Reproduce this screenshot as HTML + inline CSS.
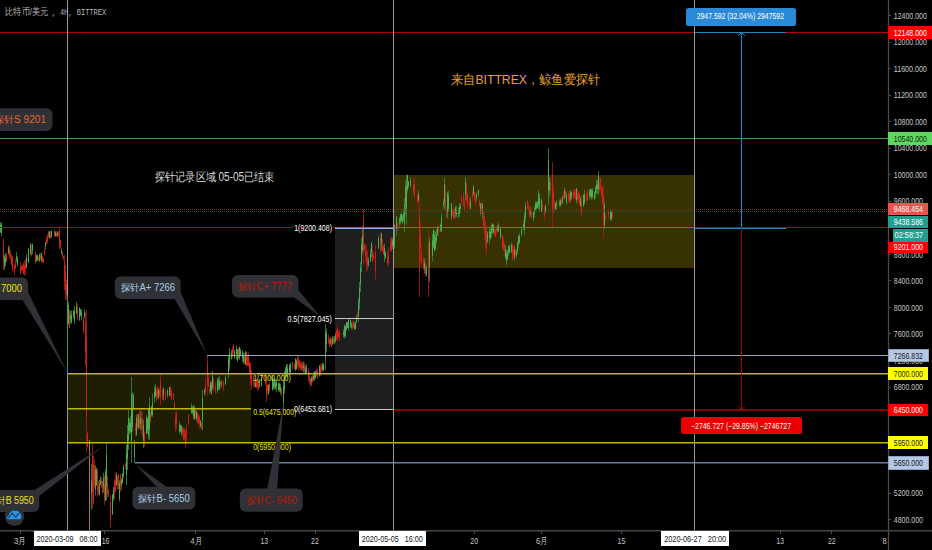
<!DOCTYPE html>
<html><head><meta charset="utf-8"><style>
html,body{margin:0;padding:0;background:#000;width:932px;height:550px;overflow:hidden}
svg{position:absolute;left:0;top:0}
text{font-family:"Liberation Sans",sans-serif}
</style></head><body>
<svg width="932" height="550" viewBox="0 0 932 550" shape-rendering="crispEdges">
<rect width="932" height="550" fill="#000"/>
<!-- boxes -->
<rect x="335" y="228" width="58" height="182" fill="#1e1e1e"/>
<rect x="67" y="373" width="184" height="70" fill="#201d05"/>
<rect x="393" y="175" width="301" height="93" fill="#383202"/>
<!-- candles -->
<g shape-rendering="geometricPrecision">
<path d="M0.5 222.6V233.4M4.5 255.2V269.7M5.5 253.0V266.1M8.5 245.7V254.4M16.5 252.2V262.4M17.5 256.5V265.9M26.5 254.2V267.8M28.5 248.4V263.2M30.5 243.1V255.4M32.5 243.3V254.3M36.5 254.6V261.6M37.5 254.7V261.0M39.5 253.4V261.9M41.5 252.3V262.3M45.5 241.9V249.6M49.5 230.6V238.5M51.5 230.7V237.7M55.5 231.1V236.4M57.5 231.2V237.0M61.5 248.1V254.6M68.5 301.9V325.0M70.5 310.7V323.3M71.5 310.5V323.8M73.5 310.0V319.0M74.5 306.2V324.2M76.5 302.0V313.7M79.5 307.6V321.0M80.5 308.8V316.0M81.5 309.1V320.6M84.5 309.3V318.3M91.5 464.0V509.8M95.5 465.1V495.5M96.5 467.7V485.8M99.5 480.0V495.1M100.5 476.3V485.0M103.5 472.8V492.3M105.5 469.4V501.1M112.5 494.4V514.9M113.5 486.9V501.3M116.5 472.0V485.9M119.5 480.2V501.5M121.5 478.3V490.0M122.5 473.3V483.4M123.5 465.1V478.1M129.5 418.4V434.0M130.5 416.1V433.3M132.5 392.5V431.6M133.5 393.5V410.3M136.5 414.5V435.7M138.5 413.9V429.2M140.5 410.9V430.4M143.5 419.4V448.2M146.5 414.9V434.0M147.5 417.8V434.0M148.5 408.9V439.2M151.5 406.2V416.8M152.5 393.8V416.8M154.5 386.4V402.8M155.5 383.6V397.3M158.5 389.3V399.4M163.5 386.9V400.5M167.5 389.1V397.7M169.5 387.2V396.0M179.5 421.4V433.8M180.5 424.9V431.6M181.5 425.0V435.8M191.5 403.6V413.8M192.5 406.0V414.5M193.5 405.1V419.3M194.5 405.9V419.9M196.5 411.0V421.1M200.5 420.2V427.8M204.5 388.5V395.3M210.5 381.8V392.7M211.5 380.8V394.7M212.5 371.0V389.7M217.5 378.5V393.2M218.5 377.2V390.1M219.5 376.3V390.1M221.5 380.3V387.4M225.5 375.4V385.4M231.5 349.6V359.3M234.5 349.8V359.1M236.5 345.3V359.7M237.5 349.2V361.5M239.5 346.6V359.7M240.5 348.7V356.3M242.5 350.0V362.1M243.5 351.8V363.8M245.5 351.0V365.0M255.5 380.2V387.1M259.5 379.0V387.9M261.5 372.6V386.6M268.5 384.2V394.5M272.5 376.1V390.8M273.5 378.5V389.4M274.5 377.7V389.9M275.5 379.4V388.9M276.5 378.3V392.5M278.5 382.2V391.5M279.5 382.7V392.1M280.5 383.8V394.5M284.5 371.2V393.3M285.5 367.0V378.7M286.5 364.5V377.3M287.5 363.9V377.6M289.5 364.4V375.3M290.5 362.6V374.4M295.5 358.4V371.2M296.5 359.3V369.6M303.5 361.6V372.3M305.5 365.3V373.9M306.5 363.7V373.6M311.5 376.4V385.5M313.5 372.4V381.0M314.5 371.7V380.6M315.5 370.6V379.2M319.5 365.1V376.8M322.5 362.6V371.3M323.5 363.5V371.3M326.5 328.7V351.6M330.5 337.5V344.6M332.5 336.1V345.0M334.5 336.3V344.3M335.5 332.8V342.9M343.5 329.5V337.7M344.5 324.3V338.4M345.5 325.8V337.1M346.5 322.2V330.6M347.5 321.8V328.1M348.5 319.3V330.9M350.5 319.8V327.9M351.5 321.9V329.5M354.5 322.1V329.8M355.5 321.3V329.8M356.5 315.4V323.6M362.5 225.9V254.3M368.5 257.1V266.7M370.5 248.7V262.2M371.5 241.7V257.4M378.5 235.3V249.0M381.5 233.1V250.4M384.5 243.7V262.0M385.5 251.2V259.1M392.5 237.9V249.0M394.5 224.3V248.7M396.5 216.4V235.2M399.5 217.1V226.6M400.5 214.3V224.5M401.5 212.5V221.8M402.5 215.1V223.8M403.5 209.2V221.6M407.5 174.3V192.5M408.5 181.0V188.4M410.5 177.4V187.0M418.5 190.6V202.1M424.5 258.4V273.5M426.5 264.8V276.2M429.5 237.2V281.8M432.5 233.9V261.5M433.5 229.5V248.2M434.5 230.8V251.7M435.5 231.7V250.0M436.5 229.2V243.8M437.5 225.9V236.0M440.5 223.5V231.7M441.5 214.1V232.0M443.5 198.8V208.7M447.5 191.7V218.0M448.5 191.0V211.9M451.5 203.1V220.3M455.5 206.1V217.5M456.5 205.7V217.2M458.5 207.3V218.2M459.5 203.2V216.9M460.5 203.6V212.7M470.5 197.2V208.8M473.5 184.9V196.1M476.5 192.2V201.1M478.5 189.9V196.7M480.5 202.9V215.2M482.5 202.7V218.8M487.5 231.2V242.6M489.5 227.1V243.5M490.5 228.6V239.7M491.5 224.9V237.6M492.5 223.2V234.7M493.5 224.2V233.1M497.5 225.3V231.4M498.5 222.8V231.9M500.5 226.5V238.9M505.5 245.2V259.0M507.5 249.9V260.0M508.5 245.4V256.1M509.5 244.8V253.0M511.5 242.4V253.1M514.5 245.7V260.6M516.5 249.7V257.5M517.5 241.6V253.9M518.5 235.2V248.6M519.5 233.2V243.9M521.5 226.6V236.3M523.5 220.4V230.5M530.5 207.0V217.1M533.5 211.4V221.3M534.5 205.9V217.6M535.5 201.3V211.1M536.5 201.3V210.3M537.5 201.1V208.7M539.5 192.9V210.7M541.5 198.9V211.6M545.5 204.4V212.7M549.5 177.0V197.0M555.5 203.0V210.0M556.5 200.2V209.0M559.5 199.3V206.9M560.5 198.6V206.8M562.5 196.2V203.5M564.5 187.6V199.0M566.5 191.7V204.8M570.5 190.9V202.2M571.5 190.7V199.5M576.5 188.3V203.8M580.5 196.0V206.6M583.5 194.5V206.6M584.5 189.9V204.8M589.5 189.0V199.3M590.5 188.8V197.3M591.5 188.2V199.8M592.5 188.0V198.6M594.5 191.3V199.9M595.5 186.0V197.6M596.5 179.7V194.3M597.5 179.7V193.7M604.5 201.7V229.1M610.5 210.7V220.2M611.5 210.8V221.1M67.5 295.0V378.0M106.5 443.0V500.0M131.5 377.0V463.0M134.5 440.0V463.0M149.5 397.0V440.0M202.5 390.0V430.0M283.5 380.0V410.0M325.5 322.0V370.0M406.5 175.0V225.0M444.5 178.0V210.0M465.5 177.0V200.0M506.5 250.0V265.0M538.5 190.0V210.0M548.5 148.0V205.0M598.5 171.0V195.0M1.5 222.0V236.0M358.5 298.0V322.0M359.5 282.0V310.0M360.5 262.0V292.0M361.5 238.0V272.0M126.5 445.0V485.0M127.5 425.0V470.0M128.5 410.0V450.0M228.5 355.0V378.0M229.5 348.0V370.0M404.5 198.0V232.0M405.5 180.0V215.0M524.5 212.0V235.0M525.5 202.0V222.0" stroke="#2f8a3a" stroke-width="0.85" fill="none"/>
<path d="M6.5 253.2V261.8M9.5 245.7V258.3M10.5 250.4V260.2M11.5 254.5V265.8M12.5 255.8V272.3M14.5 264.3V274.8M15.5 258.7V269.4M20.5 262.5V274.1M21.5 264.9V271.2M22.5 265.6V270.5M23.5 262.5V274.0M24.5 260.7V275.8M25.5 259.4V274.6M31.5 244.5V256.8M35.5 252.3V264.4M38.5 256.5V260.6M40.5 253.2V260.5M42.5 255.7V262.6M43.5 257.4V262.9M44.5 248.4V255.4M46.5 237.1V244.5M47.5 233.7V243.3M48.5 231.1V237.7M50.5 230.9V238.8M54.5 230.0V237.0M56.5 231.5V237.0M58.5 231.0V236.1M60.5 239.6V248.2M62.5 251.8V257.3M63.5 255.4V260.4M69.5 309.8V328.2M77.5 304.3V320.1M83.5 317.3V333.9M87.5 431.7V447.4M93.5 455.6V504.5M94.5 459.5V487.7M97.5 468.5V497.2M98.5 481.0V495.4M101.5 476.9V488.4M102.5 481.1V493.8M104.5 475.8V504.9M107.5 475.7V497.0M108.5 488.8V497.5M114.5 479.2V498.9M115.5 472.8V492.8M117.5 475.1V489.0M118.5 473.7V489.0M120.5 474.0V491.9M125.5 462.2V469.1M135.5 423.1V435.6M137.5 413.7V430.2M139.5 410.4V428.9M141.5 408.2V434.7M142.5 412.0V437.7M144.5 431.5V446.7M150.5 411.0V422.4M156.5 388.1V401.4M157.5 386.3V398.0M159.5 386.8V396.9M162.5 388.3V399.9M165.5 389.5V400.2M170.5 386.0V397.0M171.5 389.1V399.9M173.5 393.0V399.9M174.5 401.5V409.5M175.5 411.7V431.7M176.5 410.6V430.1M182.5 426.2V435.2M183.5 427.9V440.6M184.5 428.2V440.4M186.5 424.3V442.1M188.5 414.3V424.8M195.5 407.7V418.4M197.5 411.6V424.6M198.5 414.0V423.9M199.5 415.5V428.6M201.5 422.4V429.8M205.5 377.7V396.1M208.5 373.5V386.9M209.5 385.6V393.9M213.5 377.6V391.9M215.5 382.2V394.0M220.5 380.2V388.2M223.5 380.0V391.3M232.5 346.3V358.1M233.5 344.1V355.8M238.5 348.0V359.1M244.5 353.5V364.3M246.5 351.3V366.1M247.5 354.7V366.7M248.5 352.3V366.2M249.5 361.2V373.3M253.5 373.8V386.9M254.5 378.9V388.2M256.5 378.9V388.3M257.5 379.3V390.6M258.5 381.9V390.1M265.5 374.4V386.2M267.5 384.8V393.7M269.5 381.9V391.6M281.5 387.3V396.7M292.5 361.7V370.1M294.5 363.2V369.4M297.5 356.3V367.8M298.5 354.7V370.5M299.5 360.1V368.7M300.5 360.3V370.6M301.5 361.9V371.2M302.5 361.6V371.2M304.5 362.4V372.9M308.5 368.1V381.6M309.5 371.8V384.4M310.5 378.2V387.4M312.5 375.2V382.6M316.5 369.1V376.6M317.5 368.9V378.5M320.5 363.5V375.9M321.5 364.2V372.1M328.5 334.7V343.9M329.5 337.5V346.7M331.5 338.0V347.1M333.5 336.2V344.2M336.5 328.5V339.9M337.5 325.0V341.0M338.5 330.5V339.1M339.5 330.4V341.1M352.5 321.9V329.8M353.5 320.7V327.5M357.5 311.3V319.4M364.5 243.4V251.4M365.5 244.4V262.0M366.5 245.0V271.9M367.5 250.5V270.3M372.5 244.9V262.8M373.5 252.7V260.4M380.5 232.0V251.6M382.5 238.7V253.2M383.5 245.0V254.7M387.5 250.2V267.3M388.5 247.3V264.8M390.5 238.0V251.4M391.5 237.5V251.2M397.5 222.4V231.2M413.5 178.4V193.8M414.5 178.6V198.6M417.5 192.6V205.6M420.5 221.6V261.9M421.5 245.2V264.4M423.5 256.6V269.3M425.5 258.7V276.7M438.5 225.5V234.7M445.5 184.5V210.2M446.5 206.6V218.8M452.5 207.7V217.5M453.5 208.8V218.4M454.5 210.1V220.5M461.5 195.8V205.7M463.5 191.0V207.4M464.5 199.2V212.2M466.5 181.7V203.2M467.5 192.5V207.7M469.5 197.6V209.6M472.5 189.4V201.8M474.5 191.7V200.9M475.5 193.6V206.3M479.5 198.5V207.3M481.5 202.5V214.4M483.5 211.1V227.0M494.5 226.3V236.1M495.5 229.2V237.8M496.5 225.7V235.1M502.5 234.4V248.5M503.5 236.1V251.1M504.5 242.7V255.6M512.5 243.7V259.6M513.5 245.0V258.8M515.5 248.1V257.5M527.5 199.6V209.0M528.5 203.1V211.4M529.5 206.7V217.8M531.5 210.2V218.1M542.5 201.0V211.7M544.5 207.3V221.0M550.5 176.5V193.0M553.5 186.5V213.6M554.5 200.1V210.1M561.5 197.4V204.5M563.5 191.2V200.3M565.5 188.5V198.7M568.5 191.6V202.4M569.5 190.4V203.0M573.5 189.7V199.8M574.5 189.4V198.7M575.5 189.3V199.4M577.5 189.2V202.8M578.5 191.1V202.5M579.5 193.3V205.8M581.5 195.8V216.5M586.5 191.4V201.0M587.5 188.7V200.8M599.5 178.1V192.7M600.5 177.3V191.4M601.5 186.4V196.9M602.5 185.9V205.0M605.5 212.4V220.9M608.5 209.4V218.4M612.5 209.4V219.3M86.5 310.0V453.0M92.5 443.0V508.0M110.5 495.0V528.0M160.5 375.0V405.0M185.5 430.0V448.0M207.5 355.0V395.0M266.5 380.0V402.0M363.5 209.0V265.0M375.5 245.0V280.0M419.5 195.0V297.0M428.5 230.0V297.0M486.5 225.0V255.0M552.5 162.0V228.0M603.5 185.0V238.0M3.5 238.0V270.0M59.5 226.0V250.0M65.5 265.0V300.0M64.5 255.0V290.0M66.5 280.0V300.0M85.5 312.0V365.0M250.5 362.0V385.0M251.5 370.0V390.0M484.5 210.0V240.0M485.5 222.0V250.0" stroke="#a81a14" stroke-width="0.85" fill="none"/>
<path d="M0.5 224.9V231.8M4.5 255.7V267.3M5.5 258.0V263.0M8.5 247.9V253.1M16.5 256.3V259.1M17.5 258.2V265.3M26.5 257.6V267.4M28.5 248.4V262.3M30.5 243.9V254.2M32.5 244.4V250.7M36.5 255.6V261.2M37.5 255.2V259.0M39.5 254.3V261.0M41.5 253.2V259.8M45.5 242.4V246.8M49.5 231.9V238.1M51.5 230.8V236.5M55.5 232.3V235.9M57.5 232.8V235.9M61.5 249.9V252.6M68.5 305.0V323.2M70.5 315.7V319.4M71.5 314.6V322.4M73.5 310.5V315.7M74.5 311.2V321.1M76.5 306.0V313.4M79.5 307.8V319.9M80.5 310.2V315.5M81.5 312.5V318.1M84.5 312.8V317.1M91.5 479.4V493.9M95.5 469.7V489.7M96.5 469.6V485.1M99.5 483.9V494.9M100.5 479.1V484.5M103.5 477.7V487.4M105.5 472.6V500.2M112.5 494.5V514.4M113.5 488.6V498.4M116.5 475.2V485.1M119.5 483.2V498.8M121.5 480.2V485.3M122.5 473.5V483.0M123.5 466.5V475.4M129.5 422.9V431.2M130.5 422.5V432.4M132.5 407.8V427.6M133.5 394.7V409.2M136.5 417.4V434.9M138.5 414.3V427.5M140.5 418.3V423.8M143.5 425.4V440.3M146.5 417.2V433.0M147.5 418.3V430.6M148.5 409.0V435.5M151.5 406.3V414.7M152.5 402.3V414.7M154.5 391.7V398.0M155.5 388.1V396.1M158.5 389.5V397.8M163.5 388.9V395.3M167.5 390.4V394.7M169.5 387.3V395.8M179.5 424.2V432.1M180.5 425.1V431.4M181.5 426.8V433.1M191.5 407.2V412.0M192.5 408.1V412.4M193.5 406.6V415.9M194.5 409.7V418.9M196.5 411.7V418.3M200.5 420.3V426.1M204.5 389.9V393.1M210.5 382.3V391.6M211.5 385.0V394.5M212.5 375.7V387.4M217.5 379.0V390.6M218.5 381.0V386.1M219.5 381.5V389.3M221.5 382.5V384.8M225.5 377.4V384.1M231.5 352.7V358.9M234.5 352.6V357.5M236.5 349.0V354.0M237.5 349.3V360.8M239.5 347.1V357.9M240.5 350.6V354.8M242.5 353.0V357.9M243.5 354.9V361.1M245.5 352.4V364.7M255.5 382.7V387.1M259.5 379.7V385.7M261.5 377.8V384.7M268.5 384.6V394.4M272.5 376.2V389.3M273.5 382.7V387.2M274.5 379.8V386.1M275.5 382.6V388.5M276.5 382.6V386.9M278.5 384.0V390.2M279.5 383.5V389.5M280.5 387.2V391.5M284.5 379.2V388.8M285.5 369.5V375.2M286.5 365.3V373.0M287.5 368.2V374.4M289.5 365.7V372.2M290.5 364.1V372.0M295.5 358.6V369.1M296.5 361.2V369.0M303.5 365.0V368.3M305.5 368.6V373.2M306.5 367.6V372.2M311.5 377.2V381.9M313.5 375.3V380.0M314.5 371.7V378.0M315.5 372.1V377.0M319.5 365.8V375.7M322.5 365.2V369.8M323.5 363.9V369.8M326.5 333.7V343.7M330.5 340.3V343.1M332.5 338.9V344.3M334.5 339.4V342.2M335.5 335.2V340.3M343.5 332.2V335.1M344.5 326.1V336.0M345.5 326.0V336.5M346.5 322.2V329.3M347.5 322.8V327.8M348.5 319.3V327.8M350.5 319.8V325.6M351.5 324.3V327.3M354.5 324.4V329.3M355.5 323.2V328.3M356.5 317.5V321.6M362.5 235.3V250.5M368.5 260.6V265.4M370.5 253.7V260.9M371.5 243.3V252.7M378.5 238.1V248.1M381.5 233.3V243.5M384.5 247.8V255.6M385.5 253.1V257.8M392.5 240.5V245.6M394.5 225.9V246.3M396.5 216.7V228.2M399.5 218.4V223.5M400.5 214.5V221.6M401.5 214.1V221.2M402.5 216.8V222.7M403.5 213.6V218.3M407.5 175.7V189.8M408.5 181.9V185.8M410.5 180.5V185.7M418.5 194.0V200.2M424.5 262.7V268.6M426.5 267.2V273.8M429.5 241.6V267.2M432.5 240.3V255.7M433.5 229.9V247.3M434.5 234.2V250.6M435.5 237.1V248.8M436.5 234.1V240.7M437.5 226.9V234.6M440.5 224.9V229.6M441.5 217.7V231.8M443.5 202.0V205.2M447.5 193.0V211.8M448.5 195.4V210.6M451.5 203.7V216.5M455.5 207.4V213.0M456.5 209.7V215.2M458.5 208.3V214.0M459.5 206.9V213.5M460.5 206.3V210.0M470.5 201.4V208.8M473.5 186.5V193.5M476.5 194.1V198.2M478.5 190.2V194.3M480.5 203.8V212.1M482.5 204.7V213.4M487.5 233.1V242.1M489.5 230.5V238.1M490.5 232.0V238.3M491.5 225.4V233.0M492.5 223.5V230.6M493.5 225.1V232.9M497.5 227.7V230.7M498.5 224.3V231.7M500.5 228.0V237.7M505.5 249.1V257.6M507.5 252.3V259.2M508.5 246.6V252.8M509.5 246.1V252.7M511.5 244.8V251.5M514.5 249.7V256.6M516.5 252.5V255.2M517.5 242.6V252.4M518.5 236.1V244.1M519.5 236.1V242.4M521.5 229.9V234.0M523.5 224.1V227.5M530.5 209.8V213.8M533.5 211.9V218.5M534.5 208.0V213.2M535.5 203.5V209.8M536.5 203.7V208.1M537.5 202.0V207.6M539.5 197.9V207.5M541.5 199.3V211.6M545.5 205.2V211.9M549.5 182.1V190.3M555.5 203.4V209.1M556.5 201.8V205.6M559.5 201.8V204.3M560.5 200.3V205.4M562.5 196.7V203.3M564.5 190.7V196.2M566.5 195.2V202.5M570.5 192.0V200.0M571.5 192.5V197.4M576.5 188.4V200.1M580.5 198.6V206.2M583.5 194.6V206.1M584.5 194.0V202.5M589.5 189.6V195.8M590.5 190.0V196.6M591.5 189.9V197.6M592.5 190.5V197.2M594.5 193.6V198.9M595.5 188.4V193.1M596.5 184.8V189.8M597.5 184.1V188.8M604.5 205.0V225.8M610.5 210.8V219.6M611.5 211.7V218.6M67.5 311.6V357.2M106.5 454.4V485.8M131.5 394.2V441.5M134.5 444.6V457.2M149.5 405.6V429.2M202.5 398.0V420.0M283.5 386.0V402.5M325.5 331.6V358.0M406.5 185.0V212.5M444.5 184.4V202.0M465.5 181.6V194.2M506.5 253.0V261.2M538.5 194.0V205.0M548.5 159.4V190.8M598.5 175.8V189.0M1.5 224.8V232.5M358.5 302.8V316.0M359.5 287.6V303.0M360.5 268.0V284.5M361.5 244.8V263.5M126.5 453.0V475.0M127.5 434.0V458.8M128.5 418.0V440.0M228.5 359.6V372.2M229.5 352.4V364.5M404.5 204.8V223.5M405.5 187.0V206.2M524.5 216.6V229.2M525.5 206.0V217.0" stroke="#55b455" stroke-width="0.85" fill="none"/>
<path d="M6.5 254.2V261.3M9.5 249.1V256.1M10.5 253.5V257.4M11.5 257.8V264.5M12.5 256.8V269.1M14.5 265.6V271.9M15.5 262.7V267.4M20.5 266.5V273.7M21.5 267.1V270.5M22.5 265.9V270.1M23.5 263.7V273.9M24.5 264.9V272.7M25.5 264.2V269.3M31.5 249.4V254.5M35.5 252.5V261.8M38.5 257.7V260.2M40.5 256.1V257.7M42.5 257.9V262.4M43.5 258.5V262.5M44.5 249.5V254.3M46.5 239.0V243.5M47.5 236.2V241.3M48.5 231.7V237.0M50.5 233.8V237.5M54.5 231.6V236.1M56.5 233.2V235.0M58.5 232.8V234.3M60.5 240.0V247.7M62.5 252.1V255.3M63.5 256.3V258.4M69.5 313.0V328.0M77.5 310.1V318.4M83.5 320.2V330.6M87.5 433.9V447.1M93.5 464.6V501.4M94.5 465.6V485.0M97.5 471.2V490.5M98.5 486.1V493.1M101.5 480.7V485.7M102.5 481.2V493.1M104.5 484.5V499.1M107.5 484.0V492.8M108.5 490.9V495.3M114.5 480.7V491.2M115.5 480.6V489.2M117.5 477.9V484.1M118.5 473.8V489.0M120.5 474.9V485.3M125.5 463.9V466.6M135.5 427.6V430.6M137.5 418.6V427.4M139.5 416.7V427.3M141.5 417.7V429.7M142.5 420.5V428.9M144.5 434.3V443.3M150.5 413.2V421.4M156.5 390.7V400.4M157.5 387.0V396.2M159.5 390.5V395.6M162.5 390.0V398.1M165.5 393.0V398.4M170.5 387.5V395.8M171.5 390.5V398.7M173.5 393.1V399.3M174.5 402.3V408.1M175.5 417.6V425.1M176.5 413.4V424.0M182.5 426.6V432.2M183.5 428.9V439.3M184.5 429.8V438.4M186.5 428.9V435.0M188.5 414.5V423.6M195.5 407.9V418.0M197.5 413.2V421.6M198.5 415.4V423.1M199.5 417.7V424.3M201.5 423.5V428.3M205.5 384.9V392.6M208.5 377.9V386.1M209.5 388.4V393.3M213.5 380.1V389.4M215.5 385.8V391.8M220.5 380.8V385.0M223.5 381.2V387.6M232.5 348.9V355.4M233.5 345.9V352.0M238.5 348.6V358.1M244.5 356.7V363.2M246.5 352.1V364.9M247.5 355.5V365.2M248.5 356.3V366.2M249.5 363.4V372.2M253.5 377.5V382.5M254.5 381.8V386.2M256.5 381.7V387.0M257.5 382.1V387.4M258.5 384.2V387.3M265.5 374.7V383.4M267.5 385.0V390.6M269.5 384.3V390.5M281.5 388.8V393.4M292.5 362.0V366.9M294.5 364.3V368.9M297.5 358.3V365.2M298.5 360.3V365.6M299.5 361.7V367.7M300.5 363.3V368.0M301.5 363.5V368.7M302.5 363.1V369.3M304.5 365.4V370.7M308.5 370.4V377.8M309.5 376.5V381.7M310.5 378.7V384.6M312.5 376.6V381.7M316.5 369.3V374.1M317.5 371.3V378.4M320.5 367.4V375.0M321.5 367.1V369.6M328.5 337.8V342.6M329.5 339.9V346.6M331.5 340.3V345.9M333.5 337.1V341.5M336.5 331.0V339.7M337.5 328.9V336.8M338.5 332.7V336.7M339.5 332.3V337.8M352.5 324.1V328.3M353.5 320.7V327.4M357.5 313.8V317.6M364.5 244.4V250.0M365.5 250.7V256.3M366.5 251.3V263.2M367.5 257.4V265.8M372.5 250.5V261.2M373.5 254.1V258.6M380.5 238.2V250.4M382.5 243.2V250.7M383.5 246.0V254.5M387.5 256.7V262.7M388.5 254.3V263.3M390.5 242.5V251.2M391.5 237.8V250.4M397.5 222.9V229.6M413.5 184.0V192.5M414.5 184.3V197.0M417.5 195.8V201.9M420.5 235.2V248.0M421.5 251.9V262.4M423.5 259.6V269.3M425.5 264.1V276.3M438.5 228.5V231.6M445.5 191.5V207.4M446.5 209.2V216.7M452.5 208.5V214.7M453.5 210.0V217.5M454.5 210.1V219.0M461.5 196.3V202.2M463.5 194.7V204.7M464.5 201.5V209.8M466.5 185.0V200.4M467.5 193.6V205.8M469.5 199.1V205.5M472.5 192.1V196.9M474.5 192.1V199.5M475.5 198.5V203.8M479.5 200.0V206.8M481.5 202.7V212.4M483.5 214.6V225.3M494.5 229.5V234.9M495.5 230.1V236.5M496.5 227.5V232.1M502.5 234.9V247.0M503.5 240.9V250.2M504.5 243.8V250.7M512.5 245.1V258.8M513.5 249.3V253.9M515.5 249.0V254.3M527.5 200.6V208.7M528.5 205.6V208.7M529.5 208.6V215.5M531.5 211.9V217.3M542.5 205.2V209.3M544.5 207.3V216.0M550.5 181.4V190.9M553.5 190.5V204.6M554.5 203.4V207.3M561.5 200.0V204.0M563.5 194.4V196.8M565.5 191.2V197.5M568.5 193.9V200.0M569.5 193.2V202.5M573.5 192.0V197.0M574.5 189.8V195.6M575.5 192.4V198.9M577.5 194.1V199.4M578.5 191.9V199.1M579.5 193.9V203.9M581.5 201.4V214.4M586.5 195.0V200.9M587.5 192.5V200.6M599.5 182.4V189.8M600.5 177.6V189.5M601.5 187.4V195.9M602.5 189.3V201.6M605.5 215.5V218.9M608.5 210.9V215.3M612.5 213.2V216.9M86.5 338.6V417.2M92.5 456.0V491.8M110.5 501.6V519.8M160.5 381.0V397.5M185.5 433.6V443.5M207.5 363.0V385.0M266.5 384.4V396.5M363.5 220.2V251.0M375.5 252.0V271.2M419.5 215.4V271.5M428.5 243.4V280.2M486.5 231.0V247.5M552.5 175.2V211.5M603.5 195.6V224.8M3.5 244.4V262.0M59.5 230.8V244.0M65.5 272.0V291.2M64.5 262.0V281.2M66.5 284.0V295.0M85.5 322.6V351.8M250.5 366.6V379.2M251.5 374.0V385.0M484.5 216.0V232.5M485.5 227.6V243.0" stroke="#dc2418" stroke-width="0.85" fill="none"/>
<path d="M89.5 440.0V531.0" stroke="#b07a20" stroke-width="1" fill="none"/>
</g>
<!-- horizontal lines -->
<line x1="0" y1="32.5" x2="888" y2="32.5" stroke="#b00000" stroke-width="1"/>
<line x1="0" y1="138.5" x2="888" y2="138.5" stroke="#3fa040" stroke-width="1"/>
<line x1="0" y1="209.5" x2="888" y2="209.5" stroke="#7a3018" stroke-width="1" stroke-dasharray="1 1"/>
<line x1="0" y1="211.5" x2="888" y2="211.5" stroke="#145a52" stroke-width="1" stroke-dasharray="1 1"/>
<line x1="0" y1="227.5" x2="335" y2="227.5" stroke="#c00000" stroke-width="1"/><line x1="335" y1="227.5" x2="694" y2="227.5" stroke="#e83c26" stroke-width="1"/><line x1="694" y1="227.5" x2="888" y2="227.5" stroke="#b00000" stroke-width="1"/>
<line x1="207" y1="355.5" x2="888" y2="355.5" stroke="#8ea6c8" stroke-width="1"/>
<line x1="67" y1="373.7" x2="888" y2="373.7" stroke="#c0b800" stroke-width="1.5" shape-rendering="geometricPrecision"/>
<line x1="393" y1="410" x2="888" y2="410" stroke="#b00000" stroke-width="1.4" shape-rendering="geometricPrecision"/>
<line x1="67" y1="442.8" x2="888" y2="442.8" stroke="#c0b800" stroke-width="1.5" shape-rendering="geometricPrecision"/>
<line x1="135" y1="462.8" x2="888" y2="462.8" stroke="#6a7d98" stroke-width="1.5" shape-rendering="geometricPrecision"/>
<line x1="67" y1="408.7" x2="251" y2="408.7" stroke="#c0b800" stroke-width="1.5" shape-rendering="geometricPrecision"/>
<line x1="335" y1="409.5" x2="393" y2="409.5" stroke="#c8c8c8" stroke-width="1"/>
<line x1="335" y1="228.5" x2="393" y2="228.5" stroke="#9aaac8" stroke-width="1"/>
<line x1="335" y1="318.5" x2="393" y2="318.5" stroke="#c8c8c8" stroke-width="1"/>
<rect x="293" y="222" width="40" height="11" fill="#000"/><text x="294.2" y="230.8" fill="#ffffff" font-size="9" textLength="37.8" lengthAdjust="spacingAndGlyphs" >1(9200.408)</text><rect x="286" y="313" width="47" height="11" fill="#000"/><text x="287.4" y="321.8" fill="#ffffff" font-size="9" textLength="44.5" lengthAdjust="spacingAndGlyphs" >0.5(7827.045)</text><rect x="293" y="404" width="40" height="11" fill="#000"/><text x="294.0" y="412.4" fill="#ffffff" font-size="9" textLength="38.0" lengthAdjust="spacingAndGlyphs" >0(6453.681)</text><text x="253.2" y="380.9" fill="#e8e010" font-size="9" textLength="37.6" lengthAdjust="spacingAndGlyphs" >1(7000.000)</text><text x="253.2" y="415.4" fill="#e8e010" font-size="9" textLength="43.1" lengthAdjust="spacingAndGlyphs" >0.5(6475.000)</text><text x="253.2" y="450.4" fill="#e8e010" font-size="9" textLength="37.8" lengthAdjust="spacingAndGlyphs" >0(5950.000)</text>
<!-- vertical cursor lines -->
<line x1="67.5" y1="0" x2="67.5" y2="531" stroke="#9a9a9a" stroke-width="1"/>
<line x1="393.5" y1="0" x2="393.5" y2="531" stroke="#9a9a9a" stroke-width="1"/>
<line x1="694.5" y1="0" x2="694.5" y2="531" stroke="#9a9a9a" stroke-width="1"/>
<line x1="67.5" y1="296" x2="67.5" y2="374" stroke="#3f9a45" stroke-width="1"/>
<!-- measure tool -->
<line x1="695" y1="32.5" x2="786" y2="32.5" stroke="#2284c4" stroke-width="1"/>
<line x1="695" y1="228.5" x2="786" y2="228.5" stroke="#3f7fb8" stroke-width="1"/>
<line x1="741.5" y1="33" x2="741.5" y2="228" stroke="#2284c4" stroke-width="1"/>
<line x1="741.5" y1="228" x2="741.5" y2="409" stroke="#a80000" stroke-width="1"/>
<path d="M738 36 L741.5 32.5 L745 36" stroke="#2284c4" fill="none" shape-rendering="geometricPrecision"/>
<path d="M738 406 L741.5 409.5 L745 406" stroke="#a80000" fill="none" shape-rendering="geometricPrecision"/>
<rect x="686" y="8" width="110" height="18" rx="2.5" fill="#2a8ad8" shape-rendering="geometricPrecision"/>
<text x="696.7" y="19.4" fill="#ffffff" font-size="9" textLength="87.3" lengthAdjust="spacingAndGlyphs" >2947.592 (32.04%) 2947592</text>
<rect x="681" y="417" width="121" height="17" rx="2.5" fill="#e80000" shape-rendering="geometricPrecision"/>
<text x="691.0" y="428.8" fill="#ffffff" font-size="9" textLength="100.0" lengthAdjust="spacingAndGlyphs" >−2746.727 (−29.85%) −2746727</text>
<text x="5.2" y="15.2" fill="#b4b4b4" font-size="9.5" textLength="43.1" lengthAdjust="spacingAndGlyphs" >比特币/美元</text><text x="51.5" y="14.7" fill="#b4b4b4" font-size="8.5" textLength="54.7" lengthAdjust="spacingAndGlyphs" style="font-family:Liberation Mono">, 4H, BITTREX</text><text x="155.3" y="180.6" fill="#d8d8d8" font-size="12" textLength="119.1" lengthAdjust="spacingAndGlyphs" >探针记录区域 05-05已结束</text><text x="451.0" y="84.2" fill="#e8a020" font-size="13" textLength="149.2" lengthAdjust="spacingAndGlyphs" >来自BITTREX，鲸鱼爱探针</text><g shape-rendering="geometricPrecision"><rect x="-6" y="108.2" width="58.5" height="22.7" rx="6" fill="#2f3136"/><text x="-6.0" y="122.6" fill="#e8642a" font-size="10" textLength="52.0" lengthAdjust="spacingAndGlyphs" >探针S 9201</text><polygon points="22,299 28,292 67.5,373" fill="#2f3136"/><rect x="-10" y="277.6" width="38" height="22.4" rx="6" fill="#2f3136"/><text x="1.0" y="292.1" fill="#f0e010" font-size="10" textLength="21.0" lengthAdjust="spacingAndGlyphs" >7000</text><polygon points="174,298 180.6,292 207.3,355" fill="#2f3136"/><rect x="114.8" y="276.5" width="65.8" height="22.6" rx="6" fill="#2f3136"/><text x="120.5" y="290.6" fill="#a8cde8" font-size="10" textLength="54.5" lengthAdjust="spacingAndGlyphs" >探针A+ 7266</text><polygon points="292,296 298.4,290 320.3,316.5" fill="#2f3136"/><rect x="232" y="275" width="66.4" height="22.4" rx="6" fill="#2f3136"/><text x="237.9" y="290.1" fill="#b81c08" font-size="10" textLength="54.1" lengthAdjust="spacingAndGlyphs" >探针C+ 7777</text><polygon points="157.8,488 168.4,488 135.4,464.4" fill="#2f3136"/><rect x="132.4" y="486.7" width="63" height="22.9" rx="6" fill="#2f3136"/><text x="137.7" y="501.6" fill="#a8cde8" font-size="10" textLength="52.0" lengthAdjust="spacingAndGlyphs" >探针B- 5650</text><polygon points="267,490 277,490 283.5,403" fill="#2f3136"/><rect x="239.8" y="488.5" width="62.9" height="23.3" rx="6" fill="#2f3136"/><text x="247.0" y="503.6" fill="#b81c08" font-size="10" textLength="49.6" lengthAdjust="spacingAndGlyphs" >探针C- 6450</text><polygon points="33,491 39.3,496 104.8,444.9" fill="#2f3136"/><rect x="-20" y="490" width="59.3" height="22" rx="6" fill="#2f3136"/><text x="-12.0" y="503.9" fill="#f0e010" font-size="10" textLength="45.6" lengthAdjust="spacingAndGlyphs" >探针B 5950</text><circle cx="14.5" cy="516.4" r="9.6" fill="#2f3136" shape-rendering="geometricPrecision"/><path d="M8 519.2 C6.6 519.2 6.6 515.6 8.8 515.2 C9.4 512.2 12.4 510.2 15 511 C16.8 510 19.4 511.2 19.8 513.6 C22 514 22 519.2 20 519.2 Z" fill="#2196f3" shape-rendering="geometricPrecision"/><path d="M8.2 518 L12.3 513.2 L15.6 517.2 L18.8 513.4" stroke="#2f3136" stroke-width="1.1" fill="none" shape-rendering="geometricPrecision"/></g><!-- axes -->
<line x1="888.5" y1="0" x2="888.5" y2="550" stroke="#4d4a4a" stroke-width="1.3" shape-rendering="geometricPrecision"/>
<line x1="0" y1="530.7" x2="932" y2="530.7" stroke="#454545" stroke-width="1.5" shape-rendering="geometricPrecision"/>
<line x1="888" y1="15.8" x2="891" y2="15.8" stroke="#4d4a4a" stroke-width="1"/><text x="893.8" y="18.9" fill="#c8c8c8" font-size="8.5" textLength="33.0" lengthAdjust="spacingAndGlyphs" >12400.000</text><line x1="888" y1="42.3" x2="891" y2="42.3" stroke="#4d4a4a" stroke-width="1"/><text x="893.8" y="45.4" fill="#c8c8c8" font-size="8.5" textLength="33.0" lengthAdjust="spacingAndGlyphs" >12000.000</text><line x1="888" y1="68.8" x2="891" y2="68.8" stroke="#4d4a4a" stroke-width="1"/><text x="893.8" y="71.9" fill="#c8c8c8" font-size="8.5" textLength="33.0" lengthAdjust="spacingAndGlyphs" >11600.000</text><line x1="888" y1="95.3" x2="891" y2="95.3" stroke="#4d4a4a" stroke-width="1"/><text x="893.8" y="98.4" fill="#c8c8c8" font-size="8.5" textLength="33.0" lengthAdjust="spacingAndGlyphs" >11200.000</text><line x1="888" y1="121.8" x2="891" y2="121.8" stroke="#4d4a4a" stroke-width="1"/><text x="893.8" y="124.9" fill="#c8c8c8" font-size="8.5" textLength="33.0" lengthAdjust="spacingAndGlyphs" >10800.000</text><line x1="888" y1="148.4" x2="891" y2="148.4" stroke="#4d4a4a" stroke-width="1"/><text x="893.8" y="151.4" fill="#c8c8c8" font-size="8.5" textLength="33.0" lengthAdjust="spacingAndGlyphs" >10400.000</text><line x1="888" y1="174.9" x2="891" y2="174.9" stroke="#4d4a4a" stroke-width="1"/><text x="893.8" y="177.9" fill="#c8c8c8" font-size="8.5" textLength="33.0" lengthAdjust="spacingAndGlyphs" >10000.000</text><line x1="888" y1="201.4" x2="891" y2="201.4" stroke="#4d4a4a" stroke-width="1"/><text x="893.8" y="204.4" fill="#c8c8c8" font-size="8.5" textLength="29.2" lengthAdjust="spacingAndGlyphs" >9600.000</text><line x1="888" y1="254.4" x2="891" y2="254.4" stroke="#4d4a4a" stroke-width="1"/><text x="893.8" y="257.5" fill="#c8c8c8" font-size="8.5" textLength="29.2" lengthAdjust="spacingAndGlyphs" >8800.000</text><line x1="888" y1="280.9" x2="891" y2="280.9" stroke="#4d4a4a" stroke-width="1"/><text x="893.8" y="284.0" fill="#c8c8c8" font-size="8.5" textLength="29.2" lengthAdjust="spacingAndGlyphs" >8400.000</text><line x1="888" y1="307.4" x2="891" y2="307.4" stroke="#4d4a4a" stroke-width="1"/><text x="893.8" y="310.5" fill="#c8c8c8" font-size="8.5" textLength="29.2" lengthAdjust="spacingAndGlyphs" >8000.000</text><line x1="888" y1="333.9" x2="891" y2="333.9" stroke="#4d4a4a" stroke-width="1"/><text x="893.8" y="337.0" fill="#c8c8c8" font-size="8.5" textLength="29.2" lengthAdjust="spacingAndGlyphs" >7600.000</text><line x1="888" y1="360.5" x2="891" y2="360.5" stroke="#4d4a4a" stroke-width="1"/><text x="893.8" y="363.5" fill="#c8c8c8" font-size="8.5" textLength="29.2" lengthAdjust="spacingAndGlyphs" >7200.000</text><line x1="888" y1="387.0" x2="891" y2="387.0" stroke="#4d4a4a" stroke-width="1"/><text x="893.8" y="390.0" fill="#c8c8c8" font-size="8.5" textLength="29.2" lengthAdjust="spacingAndGlyphs" >6800.000</text><line x1="888" y1="493.0" x2="891" y2="493.0" stroke="#4d4a4a" stroke-width="1"/><text x="893.8" y="496.1" fill="#c8c8c8" font-size="8.5" textLength="29.2" lengthAdjust="spacingAndGlyphs" >5200.000</text><line x1="888" y1="519.5" x2="891" y2="519.5" stroke="#4d4a4a" stroke-width="1"/><text x="893.8" y="522.6" fill="#c8c8c8" font-size="8.5" textLength="29.2" lengthAdjust="spacingAndGlyphs" >4800.000</text><rect x="888" y="26.0" width="44.0" height="13.0" fill="#ff0000"/><text x="893.8" y="35.6" fill="#ffffff" font-size="8.5" textLength="33.0" lengthAdjust="spacingAndGlyphs" >12148.000</text><rect x="888" y="132.3" width="44.0" height="12.5" fill="#5fd862"/><text x="893.8" y="141.6" fill="#0a2a0a" font-size="8.5" textLength="33.0" lengthAdjust="spacingAndGlyphs" >10540.000</text><rect x="888" y="203.1" width="40.3" height="12.2" fill="#ef5350"/><text x="893.8" y="212.3" fill="#ffffff" font-size="8.5" textLength="29.2" lengthAdjust="spacingAndGlyphs" >9468.454</text><rect x="888" y="215.5" width="40.3" height="12.5" fill="#1fa08e"/><text x="893.8" y="224.8" fill="#ffffff" font-size="8.5" textLength="29.2" lengthAdjust="spacingAndGlyphs" >9438.586</text><rect x="892.7" y="228.8" width="35.6" height="12.7" fill="#1fa08e"/><text x="894.6" y="238.3" fill="#ffffff" font-size="8.5" textLength="28.6" lengthAdjust="spacingAndGlyphs" >02:58:37</text><rect x="888" y="241.5" width="40.3" height="11.2" fill="#ff0000"/><text x="893.8" y="250.2" fill="#ffffff" font-size="8.5" textLength="29.2" lengthAdjust="spacingAndGlyphs" >9201.000</text><rect x="888" y="349.0" width="40.3" height="12.8" fill="#b4c8e6" stroke="#8fa3c0" stroke-width="1"/><text x="893.8" y="358.5" fill="#1a1a1a" font-size="8.5" textLength="29.2" lengthAdjust="spacingAndGlyphs" >7266.832</text><rect x="888" y="367.3" width="40.3" height="12.3" fill="#ffff00"/><text x="893.8" y="376.5" fill="#1a1a1a" font-size="8.5" textLength="29.2" lengthAdjust="spacingAndGlyphs" >7000.000</text><rect x="888" y="403.6" width="40.3" height="12.4" fill="#ff0000"/><text x="893.8" y="412.9" fill="#ffffff" font-size="8.5" textLength="29.2" lengthAdjust="spacingAndGlyphs" >6450.000</text><rect x="888" y="436.1" width="40.3" height="13.1" fill="#ffff00"/><text x="893.8" y="445.7" fill="#1a1a1a" font-size="8.5" textLength="29.2" lengthAdjust="spacingAndGlyphs" >5950.000</text><rect x="888" y="456.9" width="40.3" height="12.4" fill="#b4c8e6" stroke="#8fa3c0" stroke-width="1"/><text x="893.8" y="466.2" fill="#1a1a1a" font-size="8.5" textLength="29.2" lengthAdjust="spacingAndGlyphs" >5650.000</text><line x1="20.5" y1="531" x2="20.5" y2="534" stroke="#4d4a4a"/><line x1="104.5" y1="531" x2="104.5" y2="534" stroke="#4d4a4a"/><line x1="195.5" y1="531" x2="195.5" y2="534" stroke="#4d4a4a"/><line x1="264.5" y1="531" x2="264.5" y2="534" stroke="#4d4a4a"/><line x1="315.5" y1="531" x2="315.5" y2="534" stroke="#4d4a4a"/><line x1="474.5" y1="531" x2="474.5" y2="534" stroke="#4d4a4a"/><line x1="541.5" y1="531" x2="541.5" y2="534" stroke="#4d4a4a"/><line x1="621.5" y1="531" x2="621.5" y2="534" stroke="#4d4a4a"/><line x1="780.5" y1="531" x2="780.5" y2="534" stroke="#4d4a4a"/><line x1="831.5" y1="531" x2="831.5" y2="534" stroke="#4d4a4a"/><text x="14.0" y="543.6" fill="#c8c8c8" font-size="9" textLength="12.0" lengthAdjust="spacingAndGlyphs" >3月</text><text x="101.7" y="543.6" fill="#c8c8c8" font-size="9" textLength="7.8" lengthAdjust="spacingAndGlyphs" >16</text><text x="190.6" y="543.6" fill="#c8c8c8" font-size="9" textLength="11.4" lengthAdjust="spacingAndGlyphs" >4月</text><text x="260.4" y="543.6" fill="#c8c8c8" font-size="9" textLength="7.6" lengthAdjust="spacingAndGlyphs" >13</text><text x="311.0" y="543.6" fill="#c8c8c8" font-size="9" textLength="7.8" lengthAdjust="spacingAndGlyphs" >22</text><text x="470.3" y="543.6" fill="#c8c8c8" font-size="9" textLength="7.7" lengthAdjust="spacingAndGlyphs" >20</text><text x="536.0" y="543.6" fill="#c8c8c8" font-size="9" textLength="11.6" lengthAdjust="spacingAndGlyphs" >6月</text><text x="617.6" y="543.6" fill="#c8c8c8" font-size="9" textLength="7.7" lengthAdjust="spacingAndGlyphs" >15</text><text x="776.5" y="543.6" fill="#c8c8c8" font-size="9" textLength="7.5" lengthAdjust="spacingAndGlyphs" >13</text><text x="828.0" y="543.6" fill="#c8c8c8" font-size="9" textLength="7.6" lengthAdjust="spacingAndGlyphs" >22</text><text x="882.4" y="543.6" fill="#c8c8c8" font-size="9" textLength="4.1" lengthAdjust="spacingAndGlyphs" >8</text><rect x="33.5" y="531" width="67" height="15" fill="#ffffff"/><text x="36.5" y="541.9" fill="#131722" font-size="8.5" textLength="61.0" lengthAdjust="spacingAndGlyphs" >2020-03-09&#160;&#160;&#160;08:00</text><rect x="358.8" y="531" width="67" height="15" fill="#ffffff"/><text x="361.8" y="541.9" fill="#131722" font-size="8.5" textLength="61.0" lengthAdjust="spacingAndGlyphs" >2020-05-05&#160;&#160;&#160;16:00</text><rect x="661.2" y="531" width="68" height="15" fill="#ffffff"/><text x="664.2" y="541.9" fill="#131722" font-size="8.5" textLength="62.0" lengthAdjust="spacingAndGlyphs" >2020-06-27&#160;&#160;&#160;20:00</text>
</svg>
</body></html>
